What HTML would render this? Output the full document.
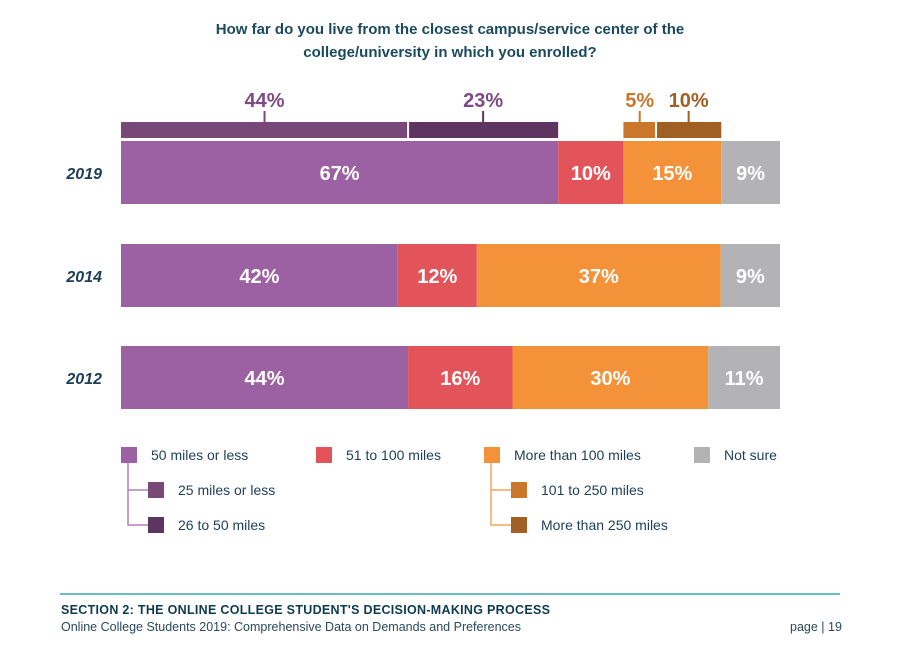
<!DOCTYPE html>
<html><head><meta charset="utf-8"><style>
body{margin:0;width:914px;height:646px;background:#fff;font-family:"Liberation Sans",sans-serif;overflow:hidden;position:relative}
.t{position:absolute}
</style></head><body>
<div class="t" style="left:190px;top:18px;width:520px;text-align:center;font-weight:bold;font-size:15px;line-height:23px;color:#1b4a5e">How far do you live from the closest campus/service center of the college/university in which you enrolled?</div>
<svg class="t" style="left:0;top:0" width="914" height="646">
<g id="g"></g>
<line x1="60" y1="594" x2="840" y2="594" stroke="#3aa6b9" stroke-width="1.5"/>
</svg>
<div class="t" style="left:61px;top:603px;font-size:12.5px;font-weight:bold;color:#0d3b4f;letter-spacing:0.3px">SECTION 2: THE ONLINE COLLEGE STUDENT'S DECISION-MAKING PROCESS</div>
<div class="t" style="left:61px;top:620px;font-size:12.5px;color:#2a4a5a">Online College Students 2019: Comprehensive Data on Demands and Preferences</div>
<div class="t" style="left:790px;top:620px;font-size:12.5px;color:#2a4a5a">page | 19</div>
<script>
const years=["2019","2014","2012"];
const under50=[67,42,44];
const mi51to100=[10,12,16];
const over100=[15,37,30];
const notSure=[9,9,11];
const sub50=[44,23];
const sub100=[5,10];
const colors=["#9c61a2","#e2545a","#f4923a","#b3b3b5"];
const NS="http://www.w3.org/2000/svg";
const g=document.getElementById('g');
const X0=121,W=659;
const rowY=[141,244,346],BH=63;
function mk(t,a){const e=document.createElementNS(NS,t);for(const k in a)e.setAttribute(k,a[k]);g.appendChild(e);return e;}
function txt(x,y,s,fill,size,anchor,style){const e=mk('text',{x:x,y:y,fill:fill,'font-size':size,'font-weight':'bold','text-anchor':anchor||'middle','font-family':'Liberation Sans, sans-serif'});if(style)e.setAttribute('font-style',style);e.textContent=s;return e;}
let first=null;
years.forEach((yr,i)=>{
  const vals=[under50[i],mi51to100[i],over100[i],notSure[i]];
  const tot=vals.reduce((a,b)=>a+b,0);
  let x=X0;const pos=[];
  const yl=txt(102,rowY[i]+38,yr,'#1b3f57',16,'end','italic');
  
  
  vals.forEach((v,j)=>{
    const w=v/tot*W;
    const r=mk('rect',{x:x,y:rowY[i],width:w,height:BH,fill:colors[j]});
    
    
    const l=txt(x+w/2,rowY[i]+39,v+'%','#fff',20);
    
    
    pos.push([x,w]);x+=w;
  });
  if(i===0)first=pos;
});
function subs(seg,arr,cols,lc,nm){
  const [sx,sw]=seg;const tot=arr.reduce((a,b)=>a+b,0);let x=sx;
  arr.forEach((v,k)=>{
    const w=v/tot*sw;
    const r=mk('rect',{x:x+(k?1:0),y:122,width:w-1,height:16,fill:cols[k]});
    
    
    mk('line',{x1:x+w/2,y1:111,x2:x+w/2,y2:122,stroke:cols[k],'stroke-width':2});
    const t=txt(x+w/2,107,v+'%',lc[k],20);
    
    
    x+=w;
  });
}
subs(first[0],sub50,["#784878","#5e3461"],["#7e4a85","#7e4a85"],'under50');
subs(first[2],sub100,["#ca772c","#a05f23"],["#ca772c","#a05f23"],'over100');
const leg=[[121,447,"#9c61a2","50 miles or less"],[316,447,"#e2545a","51 to 100 miles"],[484,447,"#f4923a","More than 100 miles"],[694,447,"#b3b3b5","Not sure"],
[148,482,"#784878","25 miles or less"],[148,517,"#5e3461","26 to 50 miles"],[511,482,"#ca772c","101 to 250 miles"],[511,517,"#a05f23","More than 250 miles"]];
mk('path',{d:'M128,463V525H148M128,490H148',stroke:'#b57fb8','stroke-width':1.5,fill:'none'});
mk('path',{d:'M491,463V525H511M491,490H511',stroke:'#f4a55c','stroke-width':1.5,fill:'none'});
leg.forEach(([x,y,c,s])=>{
  const r=mk('rect',{x:x,y:y,width:16,height:16,fill:c});
  
  
  const t=mk('text',{x:x+30,y:y+13,fill:'#1b3f57','font-size':14,'font-family':'Liberation Sans, sans-serif'});
  t.textContent=s;
  
  
});
</script>
</body></html>
